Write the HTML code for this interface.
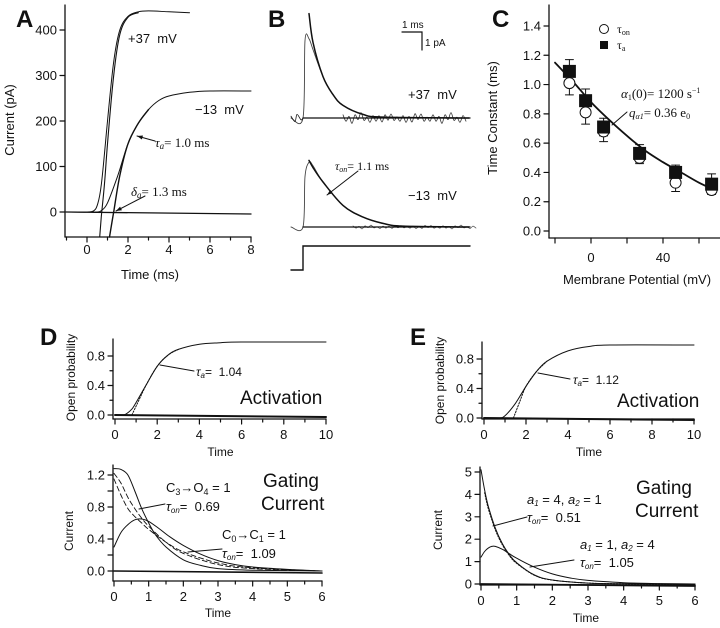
<!DOCTYPE html>
<html><head><meta charset="utf-8"><style>
html,body{margin:0;padding:0;background:#fff;}
svg{display:block;font-family:"Liberation Sans",sans-serif;}
.serif{font-family:"Liberation Serif",serif;}
</style></head><body>
<svg id="fig" width="720" height="628" viewBox="0 0 720 628" xmlns="http://www.w3.org/2000/svg">
<g id="root" stroke-linecap="round"></g>
</svg>
<script>
// ---------- Panel A data ----------
const aTicksX=[0,2,4,6,8];
const aTicksY=[0,100,200,300,400];
const aT37=[-1,0,0.3,0.5,0.7,1.0,1.3,1.6,2.0,2.5,3.0,4.0,5.0];
const aV37=[0,0,2,15,60,200,330,400,430,440,442,440,438];
const aTfit37=[0.62,0.7,0.85,1.0,1.3,1.6,2.0,2.5];
const aVfit37=[-55,-10,60,150,300,390,428,438];
const aT13=[-1,0,0.5,0.7,1.0,1.5,2.0,2.5,3.0,3.5,4.0,5.0,6.0,8.0];
const aV13=[0,0,0,3,20,80,150,195,225,245,255,263,266,266];
const aTfit13=[1.1,1.3,1.6,2.0,2.5,3.0];
const aVfit13=[-55,0,80,150,195,225];
// ---------- Panel B data ----------
const bTUp=[-0.6,0,0.1,0.3,0.5,1,1.5,2,3,4,8.3];
const bVUp=[0,0,4.3,4.4,3.8,2.3,1.3,0.7,0.2,0.05,0];
const bTUpFit=[0.3,0.5,1,1.5,2,3,4,8.3];
const bVUpFit=[5.8,4.2,2.3,1.3,0.7,0.2,0.05,0];
const bTLo=[-0.6,0,0.1,0.3,0.5,1,2,3,4,5,8.3];
const bVLo=[0,0,2.8,3.6,3.4,2.5,1.2,0.55,0.2,0.05,0];
const bTLoFit=[0.3,0.5,1,2,3,4,5,8.3];
const bVLoFit=[3.7,3.3,2.5,1.2,0.55,0.2,0.05,0];
const bNoise=[0.15,-0.2,0.1,-0.25,0.2,-0.1,0.25,-0.15,0.05,-0.2];
// ---------- Panel C data ----------
const cV=[-12,-3,7,27,47,67];
const cTauA=[1.09,0.89,0.71,0.53,0.40,0.32];
const cErrA=[0.08,0.08,0.06,0.06,0.05,0.07];
const cTauOn=[1.01,0.81,0.68,0.50,0.33,0.28];
const cErrOn=[0.08,0.08,0.07,0.04,0.06,0.03];
const cFitV=[-20,-10,0,10,20,30,40,50,60,67];
const cFitT=[1.15,1.02,0.88,0.76,0.65,0.55,0.47,0.40,0.33,0.29];
const cTicksY=[0,0.2,0.4,0.6,0.8,1.0,1.2,1.4];
const cTicksX=[-20,0,20,40,60];
// ---------- Panel D data ----------
const dTopT=[0,0.3,0.5,0.8,1.0,1.5,2,2.5,3,4,5,6,10];
const dTopP=[0,0,0.01,0.08,0.17,0.42,0.66,0.81,0.89,0.96,0.98,0.99,0.99];
const dTopFitT=[0.8,1.0,1.5,2,2.5,3];
const dTopFitP=[0,0.12,0.42,0.66,0.81,0.89];
const dBotT1=[0,0.2,0.4,0.6,0.8,1.0,1.2,1.5,2,2.5,3,4,6];
const dBotI1=[1.28,1.27,1.2,1.0,0.78,0.6,0.45,0.3,0.14,0.07,0.03,0.01,0];
const dBotT2=[0,0.2,0.4,0.6,0.8,1.0,1.3,1.6,2,2.5,3,3.5,4,5,6];
const dBotI2=[0.3,0.48,0.58,0.64,0.65,0.62,0.53,0.43,0.32,0.21,0.13,0.08,0.05,0.02,0];
const dDashT=[0,0.2,0.4,0.6,0.8,1,1.5,2,3,4,6];
const dDashI1=[1.22,1.1,0.92,0.78,0.66,0.56,0.36,0.22,0.08,0.03,0];
const dDashI2=[1.15,0.95,0.78,0.68,0.6,0.52,0.36,0.24,0.1,0.04,0];
// ---------- Panel E data ----------
const eTopT=[0,0.7,1,1.5,2,2.5,3,4,5,6,10];
const eTopP=[0,0,0.03,0.2,0.43,0.63,0.77,0.91,0.97,0.99,0.99];
const eTopFitT=[1.4,1.7,2,2.5,3];
const eTopFitP=[0,0.22,0.43,0.63,0.77];
const eBotT1=[0,0.1,0.2,0.4,0.6,0.8,1,1.5,2,3,4,6];
const eBotI1=[5.1,4.2,3.5,2.5,1.8,1.3,0.95,0.4,0.18,0.04,0.01,0];
const eBotT2=[0,0.1,0.2,0.3,0.4,0.6,0.8,1,1.5,2,2.5,3,4,5,6];
const eBotI2=[1.2,1.45,1.6,1.68,1.68,1.55,1.35,1.15,0.75,0.45,0.27,0.16,0.06,0.02,0];
const timeTop=[0,2,4,6,8,10];
const timeBot=[0,1,2,3,4,5,6];
const pTicks=[0,0.4,0.8];
const dITicks=[0,0.4,0.8,1.2];
const eITicks=[0,1,2,3,4,5];

const NS="http://www.w3.org/2000/svg";
const root=document.getElementById('root');
function el(tag,attrs,parent){const e=document.createElementNS(NS,tag);for(const k in attrs)e.setAttribute(k,attrs[k]);(parent||root).appendChild(e);return e;}
function lin(d0,d1,p0,p1){return v=>p0+(v-d0)*(p1-p0)/(d1-d0);}
function smoothPath(pts){
  let d="M"+pts[0][0].toFixed(1)+","+pts[0][1].toFixed(1);
  for(let i=0;i<pts.length-1;i++){
    const p0=pts[i-1]||pts[i],p1=pts[i],p2=pts[i+1],p3=pts[i+2]||p2;
    const c1=[p1[0]+(p2[0]-p0[0])/6,p1[1]+(p2[1]-p0[1])/6];
    const c2=[p2[0]-(p3[0]-p1[0])/6,p2[1]-(p3[1]-p1[1])/6];
    d+=" C"+c1[0].toFixed(1)+","+c1[1].toFixed(1)+" "+c2[0].toFixed(1)+","+c2[1].toFixed(1)+" "+p2[0].toFixed(1)+","+p2[1].toFixed(1);
  }
  return d;
}
function curve(xs,ys,sx,sy,name,style,parent){
  const pts=xs.map((x,i)=>[sx(x),sy(ys[i])]);
  const p=el('path',Object.assign({d:smoothPath(pts),fill:'none',stroke:'#111','stroke-width':1.2},style||{}),parent);
  
  
  return p;
}
function text(x,y,str,size,name,opts){
  const t=el('text',Object.assign({x:x,y:y,'font-size':size,fill:'#111'},opts||{}));
  t.innerHTML=str;
  
  
  return t;
}
function ln(x1,y1,x2,y2,name,w){
  const l=el('line',{x1:x1,y1:y1,x2:x2,y2:y2,stroke:'#111','stroke-width':w||1.2});
  
  
  return l;
}
function axes(o){
  ln(o.yAxisX,o.yTop,o.yAxisX,o.yBottom,o.p+'-y-axis',1.3);
  ln(o.yAxisX,o.yBottom,o.x1,o.yBottom,o.p+'-x-axis',1.3);
  o.yticks.forEach(v=>{const y=o.sy(v);ln(o.yAxisX-5,y,o.yAxisX,y,o.p+'-y-tick');
    text(o.yAxisX-8,y+4.5,o.fmtY(v),o.fs||13,o.p+'-y-tick-label',{'text-anchor':'end'});});
  o.xticks.forEach(v=>{const x=o.sx(v);ln(x,o.yBottom,x,o.yBottom+5,o.p+'-x-tick');
    text(x,o.yBottom+(o.lab||19),o.fmtX(v),o.fs||13,o.p+'-x-tick-label',{'text-anchor':'middle'});});
}
function arrowLine(x1,y1,x2,y2,name){
  ln(x1,y1,x2,y2,name,1);
  const a=Math.atan2(y2-y1,x2-x1),L=6;
  const p=el('polygon',{points:`${x2},${y2} ${x2-L*Math.cos(a-0.35)},${y2-L*Math.sin(a-0.35)} ${x2-L*Math.cos(a+0.35)},${y2-L*Math.sin(a+0.35)}`,fill:'#111'});
  
  
}

[['A',16,27],['B',268,27],['C',492,27],['D',40,345],['E',410,345]].forEach(l=>{
  text(l[1],l[2],l[0],24,'panel-label-'+l[0].toLowerCase(),{'font-weight':'bold'});});

// ===== Panel A =====
{
const sx=lin(0,8,87,251), sy=lin(0,400,212,30);
axes({p:'a',yAxisX:65,yTop:5,yBottom:237,x1:251,xticks:aTicksX,sx:sx,yticks:aTicksY,sy:sy,fmtY:v=>v,fmtX:v=>v,lab:17});
[-1,1,3,5,7].forEach(v=>ln(sx(v),237,sx(v),240,'a-x-minor-tick'));
text(150,279,'Time (ms)',13,'a-x-axis-title',{'text-anchor':'middle'});
text(14,120,'Current (pA)',13,'a-y-axis-title',{'text-anchor':'middle',transform:'rotate(-90 14 120)'});
ln(66,212,251,214,'a-zero-line',1.3);
curve(aT37,aV37,sx,sy,'a-trace-plus37',{'stroke-width':1});
curve(aTfit37,aVfit37,sx,sy,'a-fit-plus37',{'stroke-width':1.1});
curve(aT13,aV13,sx,sy,'a-trace-minus13',{'stroke-width':1});
curve(aTfit13,aVfit13,sx,sy,'a-fit-minus13',{'stroke-width':1.4});
text(128,43,'+37&#160; mV',13,'a-label-plus37');
text(195,114,'−13&#160; mV',13,'a-label-minus13');
arrowLine(155,141,137,136,'a-tau-arrow');
text(155,147,'<tspan font-style="italic">τ<tspan font-size="9" dy="2">a</tspan></tspan><tspan dy="-2">= 1.0 ms</tspan>',13,'a-tau-label',{class:'serif'});
arrowLine(145,196,116,211,'a-delta-arrow');
text(131,196,'<tspan font-style="italic">δ<tspan font-size="9" dy="2">a</tspan></tspan><tspan dy="-2">= 1.3 ms</tspan>',13,'a-delta-label',{class:'serif'});
}

// ===== Panel B =====
{
const sx=lin(0,1,303,323);
const syU=lin(0,1,118,100), syL=lin(0,1,227,209);
const nx=[],ny=[];for(let i=0;i<42;i++){nx.push(2+i*0.15);ny.push(bNoise[i%bNoise.length]*(i%3===0?1.2:0.9));}
curve(bTUp,bVUp,sx,syU,'b-trace-plus37',{'stroke-width':0.9,stroke:'#444'});
curve(nx,ny,sx,syU,'b-noise-plus37',{'stroke-width':0.8,stroke:'#333'});
curve(bTUpFit,bVUpFit,sx,syU,'b-fit-plus37',{'stroke-width':1.5});
ln(303,118,470,118,'b-baseline-plus37',1.3);
curve([-0.6,-0.4,-0.3,-0.1,0],[0.1,-0.2,0.2,-0.1,0],sx,syU,'b-prenoise-plus37',{'stroke-width':0.8});
curve(bTLo,bVLo,sx,syL,'b-trace-minus13',{'stroke-width':0.9,stroke:'#444'});
curve(nx.map(v=>v+0.5),ny.map(v=>v*0.35),sx,syL,'b-noise-minus13',{'stroke-width':0.7,stroke:'#555'});
curve(bTLoFit,bVLoFit,sx,syL,'b-fit-minus13',{'stroke-width':1.5});
ln(303,227,470,227,'b-baseline-minus13',1.3);
const st=el('polyline',{points:'291,270 303,270 303,246 470,246',fill:'none',stroke:'#111','stroke-width':1.4});


const sb=el('polyline',{points:'402,32 422,32 422,50',fill:'none',stroke:'#111','stroke-width':1.2});


text(402,28,'1 ms',10,'b-scale-time');
text(425,46,'1 pA',10,'b-scale-current');
text(408,99,'+37&#160; mV',13,'b-label-plus37');
text(408,200,'−13&#160; mV',13,'b-label-minus13');
arrowLine(358,171,327,195,'b-tau-arrow');
text(335,170,'<tspan font-style="italic">τ<tspan font-size="8" dy="2">on</tspan></tspan><tspan dy="-2">= 1.1 ms</tspan>',12,'b-tau-label',{class:'serif'});
}

// ===== Panel C =====
{
const sx=lin(0,20,591,627), sy=lin(0,1.4,231,26);
axes({p:'c',yAxisX:549,yTop:5,yBottom:238,x1:720,xticks:[],sx:sx,yticks:cTicksY,sy:sy,fmtY:v=>v.toFixed(1),fmtX:v=>v});
cTicksX.forEach(v=>{ln(sx(v),238,sx(v),243,'c-x-tick');});
[0,40].forEach(v=>text(sx(v),262,v,13,'c-x-tick-label',{'text-anchor':'middle'}));
text(637,284,'Membrane Potential (mV)',13,'c-x-axis-title',{'text-anchor':'middle'});
text(497,118,'Time Constant (ms)',13,'c-y-axis-title',{'text-anchor':'middle',transform:'rotate(-90 497 118)'});
curve(cFitV,cFitT,sx,sy,'c-fit-curve',{'stroke-width':1.8});
cV.forEach((v,i)=>{
  const x=sx(v);
  [[cTauOn[i],cErrOn[i]],[cTauA[i],cErrA[i]]].forEach((p,j)=>{
    ln(x,sy(p[0]-p[1]),x,sy(p[0]+p[1]),'c-error-bar',1);
    ln(x-4,sy(p[0]-p[1]),x+4,sy(p[0]-p[1]),'c-error-cap',1);
    ln(x-4,sy(p[0]+p[1]),x+4,sy(p[0]+p[1]),'c-error-cap',1);
  });
  const c=el('circle',{cx:x,cy:sy(cTauOn[i]),r:5.5,fill:'#fff',stroke:'#111','stroke-width':1});
  
  
  const r=el('rect',{x:x-6.5,y:sy(cTauA[i])-6.5,width:13,height:13,fill:'#111'});
  
  
});
const lc=el('circle',{cx:604,cy:29,r:4.5,fill:'#fff',stroke:'#111','stroke-width':1});


const lr=el('rect',{x:600,y:41,width:8,height:8,fill:'#111'});


text(617,33,'τ<tspan font-size="8" dy="2">on</tspan>',12,'c-legend-tau-on',{class:'serif'});
text(617,49,'τ<tspan font-size="8" dy="2">a</tspan>',12,'c-legend-tau-a',{class:'serif'});
text(621,98,'<tspan font-style="italic">α</tspan><tspan font-size="8" dy="2">1</tspan><tspan dy="-2">(0)= 1200 s</tspan><tspan font-size="8" dy="-5">−1</tspan>',13,'c-alpha-label',{class:'serif'});
text(629,117,'<tspan font-style="italic">q<tspan font-size="8" dy="2">α1</tspan></tspan><tspan dy="-2">= 0.36 e</tspan><tspan font-size="8" dy="2">0</tspan>',13,'c-q-label',{class:'serif'});
ln(627,112,612,125,'c-annotation-line',1);
}

// ===== Panel D/E top =====
function topPanel(p,x0,x1,y0,y08,axisY,T,P,FT,FP,tauStr,tauX,tauY,lx1,ly1,lx2,ly2,actX){
  const sx=lin(0,10,x0,x1), sy=lin(0,0.8,y0,y08);
  axes({p:p,yAxisX:x0-2,yTop:y08-17,yBottom:axisY,x1:x1,xticks:timeTop,sx:sx,yticks:pTicks,sy:sy,fmtY:v=>v.toFixed(1),fmtX:v=>v,lab:20});
  [0.2,0.6].forEach(v=>ln(x0-5,sy(v),x0-2,sy(v),p+'-y-minor-tick'));
  [1,3,5,7,9].forEach(v=>ln(sx(v),axisY,sx(v),axisY+3,p+'-x-minor-tick'));
  ln(x0,y0,x1,y0+2,p+'-zero-line',2);
  curve(T,P,sx,sy,p+'-open-prob-curve',{'stroke-width':1});
  curve(FT,FP,sx,sy,p+'-fit-curve',{'stroke-width':1,'stroke-dasharray':'1.5,1.5'});
  text((x0+x1)/2,axisY+37,'Time',12,p+'-x-axis-title',{'text-anchor':'middle'});
  text(x0-40,(y0+y08)/2-8,'Open probability',12,p+'-y-axis-title',{'text-anchor':'middle',transform:`rotate(-90 ${x0-40} ${(y0+y08)/2-8})`});
  ln(lx1,ly1,lx2,ly2,p+'-tau-line',1);
  text(tauX,tauY,'<tspan font-style="italic">τ<tspan font-size="8" dy="2">a</tspan></tspan><tspan dy="-2">=&#160; '+tauStr+'</tspan>',12,p+'-tau-label');
  text(actX,y0-11,'Activation',19,p+'-activation-label');
}
topPanel('d-top',115,326,415,356,419,dTopT,dTopP,dTopFitT,dTopFitP,'1.04',196,376,160,365,194,371,240);
topPanel('e-top',484,694,418,359,419,eTopT,eTopP,eTopFitT,eTopFitP,'1.12',573,384,538,373,570,379,617);

// ===== Panel D bottom =====
{
const sx=lin(0,6,114,322), sy=lin(0,1,571,491);
axes({p:'d-bot',yAxisX:113,yTop:465,yBottom:581,x1:322,xticks:timeBot,sx:sx,yticks:dITicks,sy:sy,fmtY:v=>v.toFixed(1),fmtX:v=>v,lab:20});
[0.2,0.6,1.0].forEach(v=>ln(108,sy(v),113,sy(v),'d-bot-y-minor-tick'));
[0.5,1.5,2.5,3.5,4.5,5.5].forEach(v=>ln(sx(v),581,sx(v),584,'d-bot-x-minor-tick'));
ln(114,571,322,573,'d-bot-zero-line',1.6);
curve(dBotT1,dBotI1,sx,sy,'d-bot-curve-c3-o4',{'stroke-width':1});
curve(dBotT2,dBotI2,sx,sy,'d-bot-curve-c0-c1',{'stroke-width':1});
curve(dDashT,dDashI1,sx,sy,'d-bot-curve-intermediate-1',{'stroke-width':0.9,'stroke-dasharray':'5,3'});
curve(dDashT,dDashI2,sx,sy,'d-bot-curve-intermediate-2',{'stroke-width':0.9,'stroke-dasharray':'5,3'});
text(218,617,'Time',12,'d-bot-x-axis-title',{'text-anchor':'middle'});
text(73,531,'Current',12,'d-bot-y-axis-title',{'text-anchor':'middle',transform:'rotate(-90 73 531)'});
text(166,492,'C<tspan font-size="9" dy="3">3</tspan><tspan dy="-3">→O</tspan><tspan font-size="9" dy="3">4</tspan><tspan dy="-3"> = 1</tspan>',13,'d-bot-c3-o4-label');
text(166,511,'<tspan font-style="italic">τ<tspan font-size="8" dy="2">on</tspan></tspan><tspan dy="-2">=&#160; 0.69</tspan>',13,'d-bot-tau1-label');
ln(139,509,165,504,'d-bot-tau1-line',1);
text(263,487,'Gating',19,'d-bot-gating-label');
text(261,510,'Current',19,'d-bot-current-label');
text(222,539,'C<tspan font-size="9" dy="3">0</tspan><tspan dy="-3">→C</tspan><tspan font-size="9" dy="3">1</tspan><tspan dy="-3"> = 1</tspan>',13,'d-bot-c0-c1-label');
text(222,558,'<tspan font-style="italic">τ<tspan font-size="8" dy="2">on</tspan></tspan><tspan dy="-2">=&#160; 1.09</tspan>',13,'d-bot-tau2-label');
ln(188,552,222,549,'d-bot-tau2-line',1);
}

// ===== Panel E bottom =====
{
const sx=lin(0,6,481,695), sy=lin(0,5,584,472);
axes({p:'e-bot',yAxisX:480,yTop:467,yBottom:585,x1:695,xticks:timeBot,sx:sx,yticks:eITicks,sy:sy,fmtY:v=>v,fmtX:v=>v,lab:20});
[0.5,1.5,2.5,3.5,4.5,5.5].forEach(v=>ln(sx(v),585,sx(v),588,'e-bot-x-minor-tick'));
ln(481,584,695,586,'e-bot-zero-line',1.8);
curve(eBotT1,eBotI1,sx,sy,'e-bot-curve-fast',{'stroke-width':1});
curve(eBotT2,eBotI2,sx,sy,'e-bot-curve-slow',{'stroke-width':1});
curve(eBotT1.slice(1),eBotI1.slice(1).map(v=>v*0.97),sx,sy,'e-bot-fit-fast',{'stroke-width':1,'stroke-dasharray':'1.5,1.5'});
text(586,622,'Time',12,'e-bot-x-axis-title',{'text-anchor':'middle'});
text(442,530,'Current',12,'e-bot-y-axis-title',{'text-anchor':'middle',transform:'rotate(-90 442 530)'});
text(527,504,'<tspan font-style="italic">a<tspan font-size="8" dy="2">1</tspan></tspan><tspan dy="-2"> = 4, </tspan><tspan font-style="italic">a<tspan font-size="8" dy="2">2</tspan></tspan><tspan dy="-2"> = 1</tspan>',13,'e-bot-a-label-1');
text(527,522,'<tspan font-style="italic">τ<tspan font-size="8" dy="2">on</tspan></tspan><tspan dy="-2">=&#160; 0.51</tspan>',13,'e-bot-tau1-label');
ln(493,526,527,517,'e-bot-tau1-line',1);
text(636,494,'Gating',19,'e-bot-gating-label');
text(635,517,'Current',19,'e-bot-current-label');
text(580,549,'<tspan font-style="italic">a<tspan font-size="8" dy="2">1</tspan></tspan><tspan dy="-2"> = 1, </tspan><tspan font-style="italic">a<tspan font-size="8" dy="2">2</tspan></tspan><tspan dy="-2"> = 4</tspan>',13,'e-bot-a-label-2');
text(580,567,'<tspan font-style="italic">τ<tspan font-size="8" dy="2">on</tspan></tspan><tspan dy="-2">=&#160; 1.05</tspan>',13,'e-bot-tau2-label');
ln(530,567,574,560,'e-bot-tau2-line',1);
}
</script>
</body></html>
